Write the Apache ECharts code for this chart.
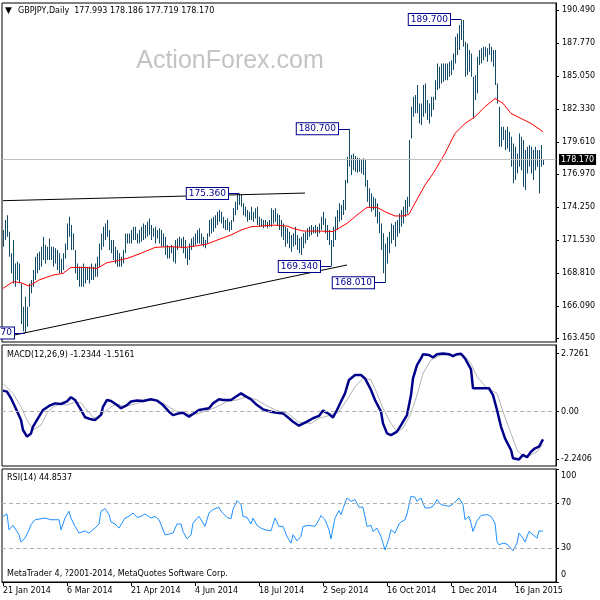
<!DOCTYPE html>
<html><head><meta charset="utf-8">
<script src="https://cdn.jsdelivr.net/npm/echarts@6/dist/echarts.min.js"></script>
<style>html,body{margin:0;padding:0;background:#fff}#c{width:600px;height:600px}</style>
</head><body><div id="c"></div>
<script>
// ---------- DATA ----------
const symbolTitle = 'GBPJPY,Daily  177.993 178.186 177.719 178.170';
const macdTitle = 'MACD(12,26,9) -1.2344 -1.5161';
const rsiTitle = 'RSI(14) 44.8537';
const footer = 'MetaTrader 4, ?2001-2014, MetaQuotes Software Corp.';
const watermark = 'ActionForex.com';
const startDate = [2014, 0, 21];
const holidays = [1225, 101];
const totalSlots = 277;
const labelEvery = 32;

const highs = [
172.35,173.17,173.58,172.21,170.43,171.53,169.60,169.74,169.60,167.95,
166.03,166.85,166.03,167.95,168.23,169.05,170.15,170.43,170.56,170.98,
171.80,171.11,170.98,171.66,170.98,170.98,170.84,170.70,170.43,170.01,
170.43,171.25,172.90,173.45,172.76,172.07,170.70,169.60,169.33,169.33,
169.60,169.33,169.33,169.33,169.60,169.33,169.60,170.15,171.25,172.07,
172.62,172.90,173.17,172.35,171.53,171.53,170.98,170.70,170.43,170.15,
170.70,172.07,172.07,172.07,172.35,172.62,172.62,172.07,172.35,172.62,
172.90,172.76,173.04,173.31,172.76,172.49,172.62,172.35,172.49,172.35,
172.07,171.80,171.11,170.98,171.11,170.98,171.53,171.66,171.80,171.66,
171.80,171.53,170.84,171.25,171.66,171.80,172.07,172.35,172.49,172.07,
171.80,171.53,172.07,173.17,173.31,173.45,173.58,173.86,174.00,173.86,
173.45,173.17,173.31,173.04,173.17,174.14,174.69,175.24,175.36,175.24,
174.55,174.27,174.00,173.86,174.27,173.86,174.14,174.27,173.45,173.31,
173.17,173.17,173.04,173.17,174.14,174.00,174.14,173.72,173.59,173.17,
172.90,172.63,172.49,172.22,171.94,172.08,172.63,171.94,171.67,171.80,
172.08,172.22,172.49,172.63,172.76,172.63,172.76,172.63,172.90,173.45,
173.86,173.31,172.76,172.35,171.53,172.63,173.45,174.00,174.55,174.41,
174.83,176.47,178.40,180.70,178.54,178.67,178.45,178.34,178.26,178.18,
178.26,178.12,176.47,175.79,175.38,175.10,174.96,174.55,173.86,172.90,
172.08,171.25,171.80,172.22,172.90,172.76,173.04,173.17,173.72,174.00,
174.28,174.83,175.10,179.77,182.52,183.34,183.48,184.30,182.79,182.79,
184.30,184.44,183.07,182.79,183.34,183.34,184.71,186.09,185.81,186.09,
186.09,186.09,186.09,186.23,186.36,186.91,188.29,188.56,189.25,189.70,
189.66,187.88,187.74,187.19,186.91,184.99,185.13,186.64,187.19,187.33,
187.46,187.46,187.33,187.74,187.46,187.19,187.19,184.44,182.52,180.87,
180.87,180.59,180.87,180.46,180.04,179.49,179.22,178.67,180.32,180.04,
179.77,178.94,179.22,179.36,179.22,178.94,179.22,178.94,178.94,179.36,
178.19];
const lows = [
170.98,171.53,171.80,170.15,168.78,167.95,167.68,168.23,167.95,164.60,
164.00,163.87,164.38,166.03,167.13,167.68,168.23,168.78,169.05,169.33,
169.88,169.60,169.88,169.88,169.88,169.33,169.60,169.05,168.78,168.78,
169.05,170.01,170.70,171.80,170.70,170.70,168.78,168.23,167.68,167.68,
167.68,167.95,168.23,167.95,168.23,168.23,168.50,168.50,169.33,170.70,
170.98,171.53,171.80,170.70,170.43,169.88,169.60,169.33,169.33,169.33,
169.60,170.43,171.25,171.25,171.25,171.53,171.53,171.25,171.25,171.39,
171.53,171.66,171.80,171.94,171.53,171.80,171.25,171.66,171.25,170.98,
170.98,170.29,170.01,170.01,170.43,169.74,169.60,170.70,170.98,170.84,
170.43,170.01,169.47,169.88,170.70,170.98,171.11,171.25,171.25,171.11,
170.98,170.84,171.25,171.80,172.07,172.21,172.49,172.76,173.04,172.90,
172.49,172.35,172.35,172.21,172.35,173.04,173.58,174.00,174.41,174.27,
173.58,173.45,173.04,173.17,173.17,173.04,173.31,172.76,172.62,172.62,
172.49,172.62,172.49,172.62,172.63,172.90,173.04,172.76,172.35,171.80,
171.53,170.98,171.25,170.84,170.57,170.98,171.12,170.70,170.43,170.29,
170.84,171.25,171.53,171.80,171.94,172.08,172.08,171.80,172.08,172.35,
172.76,172.08,171.53,171.12,169.34,170.98,171.53,172.35,173.04,173.17,
173.59,174.00,176.20,177.57,176.89,177.30,177.16,177.08,177.16,177.02,
176.89,175.93,174.69,174.28,173.86,174.00,173.45,172.90,172.08,170.70,
168.78,168.01,169.60,170.43,171.25,171.53,170.98,171.80,172.08,172.63,
172.90,173.45,173.72,174.28,179.90,181.69,181.97,181.97,181.14,181.00,
181.69,181.97,181.42,181.14,181.69,182.24,183.07,183.89,184.03,184.44,
184.58,184.71,184.71,184.99,185.13,185.54,186.09,186.78,187.19,188.01,
187.46,184.99,185.13,185.40,184.99,181.55,183.07,183.61,185.95,186.09,
186.36,186.64,186.23,186.78,186.23,185.81,184.30,182.79,179.22,179.22,
179.77,178.94,179.08,178.81,177.57,176.20,176.47,177.02,177.57,177.29,
175.92,175.65,177.02,177.57,177.02,176.47,177.29,177.57,175.37,177.57,
177.72];

const maPoints = [[0,167.54],[5,168.09],[9,168.01],[13,167.73],[18,168.23],[25,168.64],[30,168.78],[34,169.27],[40,169.27],[47,169.19],[52,169.66],[57,169.82],[62,170.01],[68,170.37],[76,170.92],[83,170.98],[91,170.92],[96,171.03],[102,171.20],[108,171.58],[114,171.94],[119,172.35],[124,172.62],[129,172.68],[135,172.76],[142,172.68],[145,172.49],[150,172.27],[158,172.27],[165,172.22],[172,172.90],[177,173.59],[182,174.22],[187,174.22],[191,173.86],[196,173.51],[200,173.51],[203,173.65],[207,174.88],[211,176.06],[215,177.0],[221,178.67],[226,180.32],[231,181.14],[236,181.69],[241,182.52],[246,183.20],[250,182.79],[254,181.97],[259,181.55],[264,181.14],[270,180.46]];

const macdPoints = [[0,0.99],[2,0.94],[4,0.63],[6,0.23],[9,-0.39],[10,-0.86],[12,-1.17],[14,-1.02],[15,-0.70],[18,-0.23],[20,0.08],[23,0.27],[26,0.39],[29,0.36],[30,0.27],[32,0.48],[34,0.68],[36,0.55],[39,0.08],[41,-0.26],[44,-0.36],[46,-0.39],[49,-0.15],[50,0.23],[52,0.55],[54,0.50],[57,0.31],[59,0.16],[62,0.31],[64,0.48],[67,0.52],[70,0.50],[74,0.58],[77,0.52],[80,0.31],[83,0.00],[85,-0.16],[88,-0.08],[90,-0.05],[93,-0.23],[95,-0.11],[98,0.08],[100,0.11],[103,0.16],[105,0.39],[108,0.58],[110,0.55],[114,0.55],[116,0.68],[119,0.86],[121,0.74],[124,0.58],[127,0.31],[130,0.11],[134,0.00],[137,-0.05],[140,-0.08],[143,-0.31],[145,-0.47],[148,-0.66],[152,-0.47],[155,-0.31],[158,-0.20],[160,0.05],[163,-0.11],[165,-0.27],[167,0.08],[169,0.48],[171,0.86],[173,1.49],[176,1.72],[179,1.72],[181,1.56],[184,1.02],[186,0.55],[189,0.00],[190,-0.55],[192,-1.02],[194,-1.10],[197,-0.94],[199,-0.63],[202,-0.16],[204,0.78],[205,1.56],[207,2.19],[209,2.50],[210,2.70],[213,2.66],[215,2.55],[217,2.70],[220,2.7261],[223,2.70],[225,2.61],[227,2.70],[229,2.72],[231,2.50],[234,1.99],[235,1.10],[238,1.10],[240,1.10],[243,1.10],[245,0.78],[247,0.08],[249,-0.70],[251,-1.25],[254,-1.80],[255,-2.19],[258,-2.2406],[260,-2.03],[262,-2.14],[264,-1.88],[266,-1.72],[268,-1.64],[270,-1.30]];

const signalPoints = [[0,1.33],[5,0.86],[9,0.23],[12,-0.39],[15,-0.86],[19,-0.63],[22,-0.08],[25,0.23],[29,0.36],[32,0.31],[35,0.42],[39,0.42],[42,0.08],[45,-0.26],[48,-0.31],[50,-0.08],[54,0.23],[57,0.36],[60,0.27],[64,0.31],[67,0.39],[72,0.52],[77,0.52],[80,0.39],[84,0.16],[87,0.00],[92,-0.11],[97,-0.11],[102,0.05],[107,0.23],[112,0.48],[117,0.55],[122,0.70],[127,0.55],[132,0.27],[137,0.05],[142,-0.05],[148,-0.50],[154,-0.55],[158,-0.31],[164,-0.16],[168,0.00],[172,0.55],[176,1.17],[180,1.56],[184,1.49],[187,0.86],[190,0.16],[194,-0.55],[197,-0.94],[200,-0.78],[204,-0.08],[207,0.78],[210,1.80],[214,2.43],[219,2.66],[225,2.66],[230,2.66],[234,2.27],[237,1.64],[242,1.10],[247,0.86],[250,0.00],[254,-1.02],[257,-1.80],[260,-2.08],[264,-2.03],[267,-1.88],[270,-1.52]];

const rsiPoints = [[0,58.1],[2,60.2],[3,46.2],[5,50.1],[7,44.7],[8,41.8],[9,35.3],[11,38.8],[13,46.2],[14,50.7],[16,55.1],[19,56.0],[21,56.6],[24,55.1],[25,56.0],[28,55.1],[29,46.2],[31,56.6],[33,62.6],[34,56.6],[36,49.2],[38,43.3],[39,41.8],[41,45.3],[43,43.3],[44,44.7],[46,47.7],[48,51.3],[49,62.6],[51,65.0],[53,59.6],[54,53.1],[56,51.3],[58,47.7],[59,49.2],[61,56.6],[63,58.1],[65,61.1],[67,57.2],[69,58.1],[71,60.2],[74,56.6],[76,58.1],[78,55.1],[79,50.7],[81,41.8],[83,42.4],[85,43.3],[87,51.3],[89,51.3],[90,44.7],[92,38.2],[94,41.8],[95,52.1],[98,58.1],[99,56.6],[101,49.2],[103,61.1],[105,64.1],[108,66.2],[109,62.6],[112,57.2],[114,56.0],[115,64.1],[117,72.1],[119,68.5],[120,58.1],[122,57.2],[124,51.3],[125,56.6],[127,50.1],[129,47.7],[131,46.2],[134,45.3],[136,56.6],[138,49.2],[140,49.2],[142,40.3],[144,34.4],[145,41.8],[147,36.4],[148,36.4],[149,40.3],[150,49.2],[153,50.1],[154,51.3],[156,49.2],[158,55.1],[159,58.9],[161,55.1],[163,46.2],[164,38.2],[166,56.6],[168,63.1],[169,59.6],[171,69.9],[172,74.4],[174,71.4],[176,72.9],[178,66.2],[180,66.2],[182,49.2],[184,50.1],[185,44.7],[187,47.7],[189,40.3],[190,34.4],[191,28.4],[193,38.8],[194,46.2],[196,43.3],[198,51.3],[199,53.1],[201,55.1],[202,60.2],[204,75.9],[206,75.0],[207,71.4],[209,74.4],[211,65.5],[213,65.5],[215,67.0],[217,72.9],[219,68.5],[220,69.9],[223,67.0],[225,69.0],[228,74.4],[229,75.0],[230,68.5],[231,55.1],[233,58.1],[234,52.1],[235,44.7],[237,54.2],[239,58.9],[242,59.6],[244,58.1],[246,52.1],[247,35.8],[248,32.9],[250,34.4],[252,33.5],[253,32.3],[255,27.6],[257,34.4],[258,43.3],[260,38.8],[261,35.3],[263,44.7],[265,41.8],[267,38.8],[268,45.3],[270,44.85]];

const priceTicks = [163.45,166.09,168.81,171.53,174.25,176.97,179.61,182.33,185.05,187.77,190.49];
const macdTicks = [2.7261, 0, -2.2406];
const rsiTicks = [100, 70, 30, 0];
const rsiLevels = [70, 30];
const lastPrice = 178.17;

const priceLabels = [
  {bar: 11, price: 163.87, text: '163.870'},
  {bar: 118, price: 175.36, text: '175.360'},
  {bar: 164, price: 169.34, text: '169.340'},
  {bar: 173, price: 180.70, text: '180.700'},
  {bar: 191, price: 168.01, text: '168.010'},
  {bar: 229, price: 189.70, text: '189.700'}
];
const trendLines = [
  [[0, 174.77], [151, 175.40]],
  [[3, 163.60], [172, 169.47]]
];

// ---------- BUILD ----------
const MON = ['Jan','Feb','Mar','Apr','May','Jun','Jul','Aug','Sep','Oct','Nov','Dec'];
const cats = [];
{
  const d = new Date(Date.UTC(startDate[0], startDate[1], startDate[2]));
  while (cats.length < totalSlots) {
    const wd = d.getUTCDay();
    const md = (d.getUTCMonth() + 1) * 100 + d.getUTCDate();
    if (wd !== 0 && wd !== 6 && holidays.indexOf(md) < 0) {
      cats.push(d.getUTCDate() + ' ' + MON[d.getUTCMonth()] + ' ' + d.getUTCFullYear());
    }
    d.setUTCDate(d.getUTCDate() + 1);
  }
}
const bars = highs.map((h, i) => [i, lows[i], h]);

const FONT = 'DejaVu Sans';
const BAR = '#134a66';
const NAVY = '#00008b';
const CONNECT = 5;

const markData = [];
trendLines.forEach(t => markData.push([
  {coord: t[0], lineStyle: {color: '#000', width: 1, type: 'solid'}, label: {show: false}},
  {coord: t[1]}
]));
priceLabels.forEach(a => markData.push([
  {coord: [a.bar - CONNECT, a.price], lineStyle: {color: NAVY, width: 1, type: 'solid'},
   label: {show: true, position: 'start', formatter: a.text, distance: 1, color: NAVY,
           backgroundColor: '#fff', borderColor: NAVY, borderWidth: 1, padding: [1, 2, 0, 2],
           fontFamily: FONT, fontSize: 9, lineHeight: 10}},
  {coord: [a.bar, a.price]}
]));
markData.push({yAxis: lastPrice, lineStyle: {color: '#c0c0c0', width: 1, type: 'solid'},
  label: {show: true, position: 'end', formatter: lastPrice.toFixed(3), distance: 3, color: '#fff',
          backgroundColor: '#000', padding: [1, 2, 0, 2], fontFamily: FONT, fontSize: 8, lineHeight: 10}});

const gridBase = {left: 2, width: 554, show: true, borderColor: '#000', borderWidth: 1, backgroundColor: 'transparent'};
const labelEveryFn = (idx) => idx % labelEvery === 0;
const yCommon = {
  type: 'value', position: 'right', scale: true,
  splitLine: {show: false},
  axisLine: {show: true, lineStyle: {color: '#000'}},
};

const option = {
  animation: false,
  backgroundColor: '#fff',
  grid: [
    Object.assign({top: 3, height: 339}, gridBase),
    Object.assign({top: 345, height: 121}, gridBase),
    Object.assign({top: 469, height: 113}, gridBase)
  ],
  xAxis: [
    {type: 'category', gridIndex: 0, data: cats, boundaryGap: true, show: false},
    {type: 'category', gridIndex: 1, data: cats, boundaryGap: true, show: false},
    {type: 'category', gridIndex: 2, data: cats, boundaryGap: true,
     axisLine: {show: true, lineStyle: {color: '#000'}},
     axisTick: {show: true, alignWithLabel: true, interval: labelEveryFn, length: 4, lineStyle: {color: '#000'}},
     axisLabel: {interval: labelEveryFn, align: 'left', margin: 5, color: '#000', fontFamily: FONT, fontSize: 8}}
  ],
  yAxis: [
    Object.assign({}, yCommon, {gridIndex: 0, min: 163.12, max: 191.07,
      axisTick: {show: true, length: 3, customValues: priceTicks, lineStyle: {color: '#000'}},
      axisLabel: {customValues: priceTicks, formatter: v => v.toFixed(3), margin: 6, color: '#000', fontFamily: FONT, fontSize: 8}}),
    Object.assign({}, yCommon, {gridIndex: 1, min: -2.55, max: 3.13,
      axisTick: {show: true, length: 3, customValues: macdTicks, lineStyle: {color: '#000'}},
      axisLabel: {customValues: macdTicks, formatter: v => v === 0 ? '0.00' : v.toFixed(4), margin: 5, color: '#000', fontFamily: FONT, fontSize: 8}}),
    Object.assign({}, yCommon, {gridIndex: 2, min: 0, max: 100,
      axisTick: {show: true, length: 3, customValues: rsiTicks, lineStyle: {color: '#000'}},
      axisLabel: {customValues: rsiTicks, margin: 5, color: '#000', fontFamily: FONT, fontSize: 8,
        formatter: v => v === 100 ? '{t|100}' : (v === 0 ? '{b|0}' : String(v)),
        rich: {t: {padding: [13, 0, 0, 0], fontFamily: FONT, fontSize: 8, color: '#000'},
               b: {padding: [0, 0, 14, 0], fontFamily: FONT, fontSize: 8, color: '#000'}}}})
  ],
  series: [
    {type: 'custom', xAxisIndex: 0, yAxisIndex: 0, data: bars, encode: {x: 0, y: [1, 2]}, z: 2,
     renderItem: (params, api) => {
       const x = api.value(0);
       const hi = api.coord([x, api.value(2)]);
       const lo = api.coord([x, api.value(1)]);
       return {type: 'rect', shape: {x: hi[0], y: hi[1], width: 1, height: Math.max(1, lo[1] - hi[1])},
               style: {fill: BAR}};
     }},
    {type: 'line', xAxisIndex: 0, yAxisIndex: 0, data: maPoints, showSymbol: false, symbol: 'none', z: 3,
     lineStyle: {color: '#ff0000', width: 1}, silent: true,
     markLine: {silent: true, symbol: ['none', 'none'], animation: false, data: markData}},
    {type: 'line', xAxisIndex: 1, yAxisIndex: 1, data: signalPoints, showSymbol: false, symbol: 'none',
     lineStyle: {color: '#b4b4b4', width: 1}, silent: true,
     markLine: {silent: true, symbol: ['none', 'none'], label: {show: false},
       lineStyle: {color: '#b0b0b0', type: [4, 3], width: 1}, data: [{yAxis: 0}]}},
    {type: 'line', xAxisIndex: 1, yAxisIndex: 1, data: macdPoints, showSymbol: false, symbol: 'none', z: 3,
     lineStyle: {color: NAVY, width: 2.5}, silent: true},
    {type: 'line', xAxisIndex: 2, yAxisIndex: 2, data: rsiPoints, showSymbol: false, symbol: 'none',
     lineStyle: {color: '#1e90ff', width: 1}, silent: true,
     markLine: {silent: true, symbol: ['none', 'none'], label: {show: false},
       lineStyle: {color: '#b0b0b0', type: [4, 3], width: 1}, data: rsiLevels.map(v => ({yAxis: v}))}}
  ],
  graphic: [
    {type: 'text', x: 5, y: 11, style: {text: '▼', font: '9px "DejaVu Sans"', fill: '#000', verticalAlign: 'middle'}},
    {type: 'text', x: 18, y: 11, style: {text: symbolTitle, font: '8px "DejaVu Sans"', fill: '#000', verticalAlign: 'middle'}},
    {type: 'text', x: 230, y: 61, z: -1, style: {text: watermark, font: '25px "Liberation Sans"', fill: '#c4c4c4', align: 'center', verticalAlign: 'middle'}},
    {type: 'text', x: 7, y: 355, style: {text: macdTitle, font: '8px "DejaVu Sans"', fill: '#000', verticalAlign: 'middle'}},
    {type: 'text', x: 7, y: 478, style: {text: rsiTitle, font: '8px "DejaVu Sans"', fill: '#000', verticalAlign: 'middle'}},
    {type: 'text', x: 7, y: 574, style: {text: footer, font: '8px "DejaVu Sans"', fill: '#000', verticalAlign: 'middle'}}
  ]
};

const chart = echarts.init(document.getElementById('c'), null, {renderer: 'canvas'});
chart.setOption(option);
</script>
</body></html>
